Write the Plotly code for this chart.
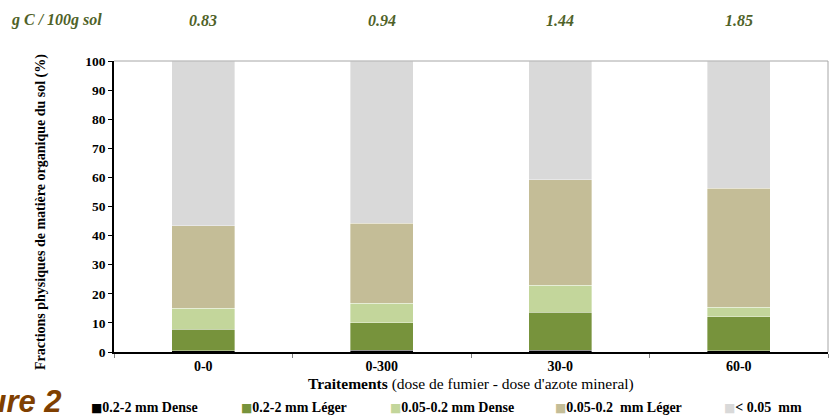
import plotly.graph_objects as go

categories = ["0-0", "0-300", "30-0", "60-0"]
carbon = ["0.83", "0.94", "1.44", "1.85"]

series_names = ["0.2-2 mm Dense", "0.2-2 mm Léger", "0.05-0.2 mm Dense",
                "0.05-0.2  mm Léger", "< 0.05  mm"]
dense_02_2 = [0.5, 0.6, 0.6, 0.5]
leger_02_2 = [7.4, 9.5, 13.0, 11.6]
dense_005_02 = [7.1, 6.6, 9.4, 3.3]
leger_005_02 = [28.4, 27.5, 36.2, 40.8]
fine_005 = [56.6, 55.8, 40.8, 43.8]

colors = ["#000000", "#77933C", "#C3D69B", "#C4BD97", "#D9D9D9"]
series = [dense_02_2, leger_02_2, dense_005_02, leger_005_02, fine_005]

SERIF = "Liberation Serif, Times New Roman, serif"

fig = go.Figure()
for name, vals, col in zip(series_names, series, colors):
    fig.add_trace(go.Bar(x=categories, y=vals, name=name, marker_color=col,
                         marker_line=dict(color="rgba(255,255,255,0.6)", width=0.6),
                         showlegend=False))

W, H = 834, 417
L, R, T, B = 114, 6, 61, 65
pw, ph = W - L - R, H - T - B

def px_x(x):
    return (x - L) / pw

def px_y(y):
    return (H - B - y) / ph

annotations = []
# top carbon row
annotations.append(dict(text="<b><i>g C / 100g sol</i></b>", x=px_x(9), y=px_y(20),
                        xref="paper", yref="paper", xanchor="left", yanchor="middle",
                        showarrow=False, font=dict(family=SERIF, size=16, color="#4F6228")))
for c, v in zip(categories, carbon):
    annotations.append(dict(text=f"<b><i>{v}</i></b>", x=c, y=px_y(20), xref="x", yref="paper",
                            xanchor="center", yanchor="middle", showarrow=False,
                            font=dict(family=SERIF, size=16, color="#4F6228")))
# legend built as text
leg_x = [89, 239, 388, 553, 722]
for name, col, lx in zip(series_names, colors, leg_x):
    annotations.append(dict(
        text=f"<span style='color:{col};font-size:12px;font-family:DejaVu Sans'>■</span><b>{name}</b>",
        x=px_x(lx), y=px_y(407), xref="paper", yref="paper",
        xanchor="left", yanchor="middle", showarrow=False,
        font=dict(family=SERIF, size=14, color="#000000")))
# figure label (cut at left edge as in the reference)
annotations.append(dict(text="<b><i>Figure 2</i></b>", x=px_x(64), y=px_y(401),
                        xref="paper", yref="paper", xanchor="right", yanchor="middle",
                        showarrow=False,
                        font=dict(family="Liberation Sans Narrow, Liberation Sans, Arial", size=31,
                                  color="#7F3F00")))
# x title
annotations.append(dict(text="<b>Traitements</b> (dose de fumier - dose d'azote mineral)",
                        x=0.5, y=px_y(384), xref="paper", yref="paper", xanchor="center",
                        yanchor="middle", showarrow=False,
                        font=dict(family=SERIF, size=15.5, color="#000000")))
# y title
annotations.append(dict(text="<b>Fractions physiques de matière organique du sol (%)</b>",
                        x=px_x(41), y=px_y(212), xref="paper", yref="paper", xanchor="center",
                        yanchor="middle", showarrow=False, textangle=-90,
                        font=dict(family=SERIF, size=14, color="#000000")))

fig.update_layout(
    barmode="stack",
    bargap=0.647,
    width=W, height=H,
    margin=dict(l=L, r=R, t=T, b=B),
    paper_bgcolor="white", plot_bgcolor="white",
    font=dict(family=SERIF, color="#000000"),
    annotations=annotations,
    xaxis=dict(showline=True, linecolor="#000000", linewidth=1.5, mirror=False,
               ticks="outside", tickson="boundaries", ticklen=4, tickcolor="#808080",
               tickfont=dict(family=SERIF, size=14, color="#000000"),
               tickprefix="<b>", ticksuffix="</b>", showgrid=False),
    yaxis=dict(range=[0, 100], dtick=10, showline=True, linecolor="#000000", linewidth=1.5,
               ticks="outside", ticklen=4, tickcolor="#000000", showgrid=False,
               tickfont=dict(family=SERIF, size=13.5, color="#000000"),
               tickprefix="<b>", ticksuffix="</b>"),
    shapes=[dict(type="line", xref="paper", yref="paper", x0=0, x1=1, y0=1, y1=1,
                 line=dict(color="#A6A6A6", width=1)),
            dict(type="line", xref="paper", yref="paper", x0=1, x1=1, y0=0, y1=1,
                 line=dict(color="#A6A6A6", width=1))],
)

fig.write_html("out.html", config={"displayModeBar": False},
               post_script="document.body.style.margin='0px';")
